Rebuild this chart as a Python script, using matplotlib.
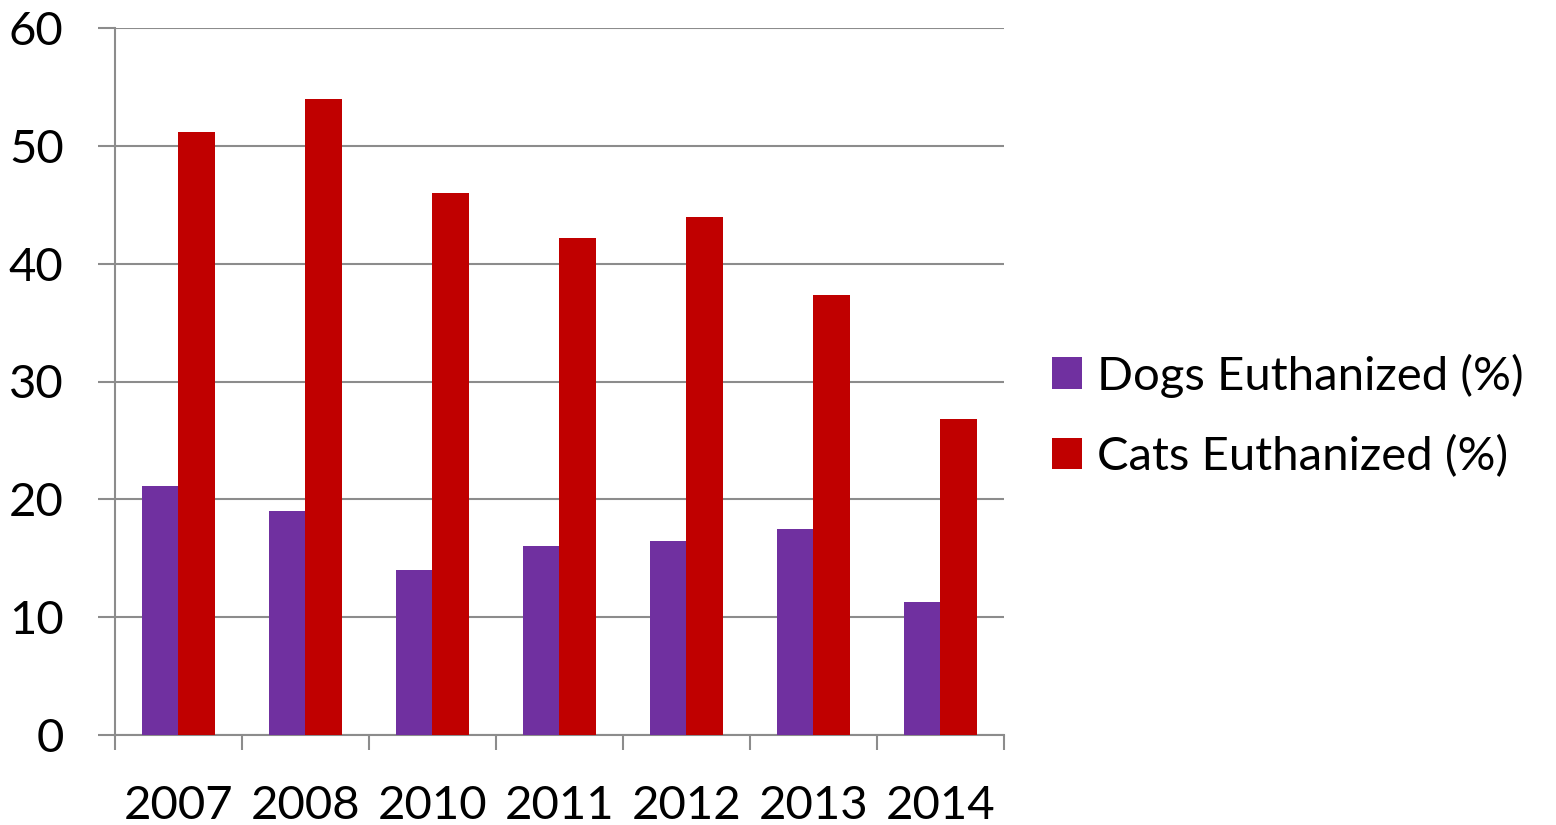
import numpy as np
import matplotlib.pyplot as plt

years = ["2007", "2008", "2010", "2011", "2012", "2013", "2014"]
dogs = [21.1, 19.0, 14.0, 16.0, 16.5, 17.5, 11.3]
cats = [51.2, 54.0, 46.0, 42.2, 44.0, 37.3, 26.8]

plt.rcParams['font.family'] = ['Lato', 'DejaVu Sans']
grid_col = '#8c8c8c'

fig = plt.figure(figsize=(15.56, 8.25), dpi=100)
ax = fig.add_axes([115 / 1556, 1 - 735 / 825, 889 / 1556, 707 / 825])

x = np.arange(len(years))
w = 0.29
ax.bar(x - w / 2, dogs, w, color='#7030A0', label='Dogs Euthanized (%)', zorder=3)
ax.bar(x + w / 2, cats, w, color='#C00000', label='Cats Euthanized (%)', zorder=3)

ax.set_xlim(-0.5, len(years) - 0.5)
ax.set_ylim(0, 60)
ax.set_yticks(range(0, 61, 10))
ax.set_xticks(x)
ax.set_xticklabels(years)
ax.set_xticks(np.arange(-0.5, len(years)), minor=True)

ax.yaxis.grid(True, color=grid_col, linewidth=1.5, zorder=0)
ax.tick_params(axis='y', length=12, width=1.5, color=grid_col, pad=25, labelsize=34)
ax.tick_params(axis='x', which='major', length=0, pad=36, labelsize=34)
ax.tick_params(axis='x', which='minor', length=11, width=1.5, color=grid_col)

for side in ['top', 'right']:
    ax.spines[side].set_visible(False)
for side in ['left', 'bottom']:
    ax.spines[side].set_color(grid_col)
    ax.spines[side].set_linewidth(1.5)

fig.legend(loc='center left', bbox_to_anchor=(1052 / 1556, 1 - 416 / 825),
           frameon=False, fontsize=34, handlelength=0.64, handleheight=0.64,
           handletextpad=0.32, labelspacing=0.8, borderpad=0, borderaxespad=0)

fig.savefig('out.png', dpi=100)
